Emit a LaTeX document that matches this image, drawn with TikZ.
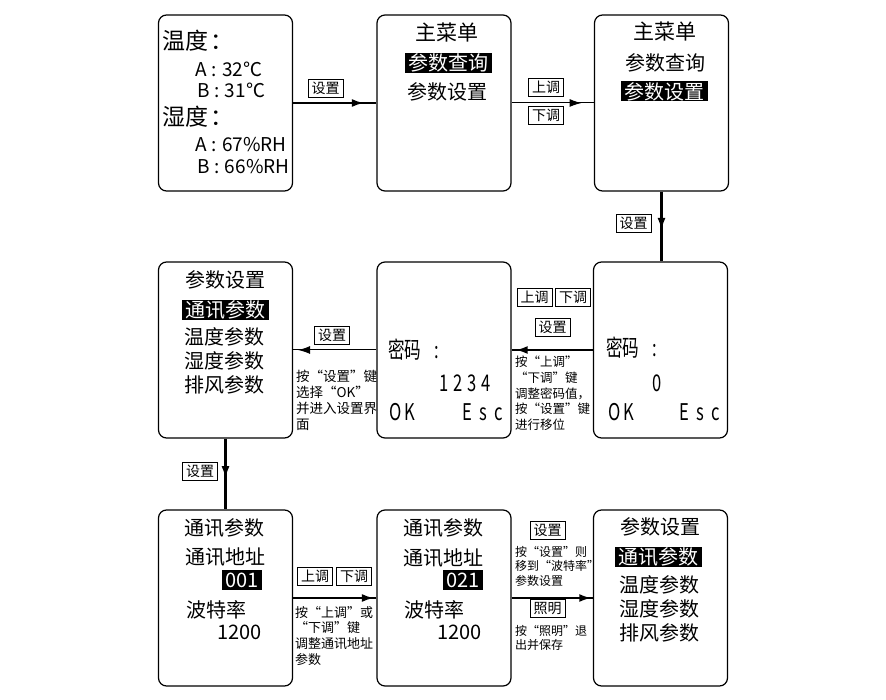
\documentclass[tikz,border=0pt]{standalone}
\usepackage{fontspec}
\setmainfont{Noto Sans CJK SC}
\newfontfamily\condfont[FakeStretch=0.72]{Noto Sans CJK SC}
\usetikzlibrary{arrows.meta,decorations.markings}
\tikzset{
  scr/.style={draw, line width=1.2pt, rounded corners=8pt, minimum width=134pt, minimum height=176pt, inner sep=0pt},
  txt/.style={inner sep=0pt, font=\fontsize{20}{20}\selectfont},
  bigtxt/.style={inner sep=0pt, font=\fontsize{23}{23}\selectfont},
  valtxt/.style={inner sep=0pt, font=\fontsize{19}{19}\selectfont},
  lcdtxt/.style={inner sep=0pt, font=\condfont\fontsize{23}{23}\selectfont},
  inv/.style={fill=black, text=white, inner sep=0pt, minimum width=87pt, minimum height=20pt, font=\fontsize{20}{20}\selectfont},
  keybox/.style={draw, line width=0.8pt, inner sep=0pt, minimum width=35pt, minimum height=18pt, font=\fontsize{14}{14}\selectfont},
  note/.style={inner sep=0pt, anchor=north west, align=left, font=\fontsize{12.5}{15.7}\selectfont},
  thk/.style={line width=2.2pt},
  thn/.style={line width=1pt},
  midarrow/.style={postaction={decorate}, decoration={markings, mark=at position #1 with {\arrow{Latex[length=12pt,width=8pt]}}}}
}
\newcommand{\colsep}{\hspace{5pt}:\hspace{5pt}}
\begin{document}
\begin{tikzpicture}[x=1pt,y=-1pt]
\useasboundingbox (0,0) rectangle (886,700);
\fill[white] (0,0) rectangle (886,700);

% screens
\node[scr] (b11) at (225.5,103) {};
\node[scr] (b12) at (444,103) {};
\node[scr] (b13) at (661.5,103) {};
\node[scr] (b21) at (225.5,350) {};
\node[scr] (b22) at (444,350) {};
\node[scr] (b23) at (660.5,350) {};
\node[scr] (b31) at (225.5,598) {};
\node[scr] (b32) at (444,598) {};
\node[scr] (b33) at (660.5,598) {};

% screen 1
\node[bigtxt, anchor=west] (t11a) at (162,41) {温度\hspace{2pt}：};
\node[valtxt, anchor=west] (t11b) at (195,69) {A\colsep 32℃};
\node[valtxt, anchor=west] (t11c) at (197,90) {B\colsep 31℃};
\node[bigtxt, anchor=west] (t11d) at (162,117) {湿度\hspace{2pt}：};
\node[valtxt, anchor=west] (t11e) at (195,145) {A\colsep 67\%RH};
\node[valtxt, anchor=west] (t11f) at (197,167) {B\colsep 66\%RH};

% screen 2
\node[txt, font=\fontsize{21}{21}\selectfont] (t12a) at (447,33) {主菜单};
\node[inv] (t12b) at (448.5,63) {参数查询};
\node[txt] (t12c) at (447,92) {参数设置};

% screen 3
\node[txt, font=\fontsize{21}{21}\selectfont] (t13a) at (665,32) {主菜单};
\node[txt] (t13b) at (665,63) {参数查询};
\node[inv] (t13c) at (664.5,91.5) {参数设置};

% screen 4 (row 2 left)
\node[txt] (t21a) at (225,280) {参数设置};
\node[inv] (t21b) at (225.5,310) {通讯参数};
\node[txt] (t21c) at (224,337) {温度参数};
\node[txt] (t21d) at (224,361) {湿度参数};
\node[txt] (t21e) at (224,385) {排风参数};

% screen 5 (row 2 middle)
\node[lcdtxt, anchor=west] (t22a) at (388,350) {密码\hspace{13pt}:};
\node[lcdtxt] (t22b) at (465,383) {1\hspace{5pt}2\hspace{5pt}3\hspace{5pt}4};
\node[lcdtxt, anchor=west] (t22c) at (389,412) {O\hspace{3pt}K};
\node[lcdtxt, anchor=east] (t22d) at (503,412) {E\hspace{7pt}s\hspace{7pt}c};

% screen 6 (row 2 right)
\node[lcdtxt, anchor=west] (t23a) at (606,348) {密码\hspace{13pt}:};
\node[lcdtxt] (t23b) at (657,383) {0};
\node[lcdtxt, anchor=west] (t23c) at (608,412) {O\hspace{3pt}K};
\node[lcdtxt, anchor=east] (t23d) at (720,412) {E\hspace{7pt}s\hspace{7pt}c};

% screen 7 (row 3 left)
\node[txt] (t31a) at (224,528) {通讯参数};
\node[txt] (t31b) at (225,557) {通讯地址};
\node[inv, minimum width=40pt] (t31c) at (242,580) {001};
\node[txt, anchor=west] (t31d) at (186,610) {波特率};
\node[txt, anchor=east] (t31e) at (262,632) {1200};

% screen 8 (row 3 middle)
\node[txt] (t32a) at (443.5,528) {通讯参数};
\node[txt] (t32b) at (443.5,558) {通讯地址};
\node[inv, minimum width=40pt] (t32c) at (463,580) {021};
\node[txt, anchor=west] (t32d) at (404,610) {波特率};
\node[txt, anchor=east] (t32e) at (482,632) {1200};

% screen 9 (row 3 right)
\node[txt] (t33a) at (660,527) {参数设置};
\node[inv] (t33b) at (658.5,557) {通讯参数};
\node[txt] (t33c) at (659,585) {温度参数};
\node[txt] (t33d) at (659,609) {湿度参数};
\node[txt] (t33e) at (659,633) {排风参数};

% key labels
\node[keybox] (k1) at (325.5,88) {设置};
\node[keybox] (k2) at (546,87.5) {上调};
\node[keybox] (k3) at (546,115.5) {下调};
\node[keybox] (k4) at (633.5,223.5) {设置};
\node[keybox] (k5) at (534.5,297.5) {上调};
\node[keybox] (k6) at (573,297.5) {下调};
\node[keybox] (k7) at (552.5,327.5) {设置};
\node[keybox] (k8) at (332,335) {设置};
\node[keybox] (k9) at (200,471) {设置};
\node[keybox] (k10) at (315,576.5) {上调};
\node[keybox] (k11) at (354,576.5) {下调};
\node[keybox] (k12) at (547.5,530) {设置};
\node[keybox] (k13) at (547.5,608.5) {照明};

% notes
\node[note] (n1) at (515,356) {按“上调”\\“下调”键\\调整密码值，\\按“设置”键\\进行移位};
\node[note, font=\fontsize{13.5}{16}\selectfont] (n2) at (296,370) {按“设置”键\\选择“OK”\\并进入设置界\\面};
\node[note, font=\fontsize{13}{15.7}\selectfont] (n3) at (295,606) {按“上调”或\\“下调”键\\调整通讯地址\\参数};
\node[note, font=\fontsize{12}{14.5}\selectfont] (n4) at (515,546) {按“设置”则\\移到“波特率”\\参数设置};
\node[note, font=\fontsize{12}{14.5}\selectfont] (n5) at (515,625) {按“照明”退\\出并保存};

% connectors
\draw[thk, midarrow=0.85] (b11.east) -- (b12.west);
\draw[thn, midarrow=0.85] (b12.east) -- (b13.west);
\draw[thk, midarrow=0.55] (b13.south) -- (b13.south |- b23.north);
\draw[thk, midarrow=0.95] (b23.west) -- (b22.east);
\draw[thn, midarrow=0.94] (b22.west) -- (b21.east);
\draw[thk, midarrow=0.56] (b21.south) -- (b31.north);
\draw[thk, midarrow=0.97] (b31.east) -- (b32.west);
\draw[thk, midarrow=0.98] (b32.east) -- (b33.west);
\end{tikzpicture}
\end{document}
